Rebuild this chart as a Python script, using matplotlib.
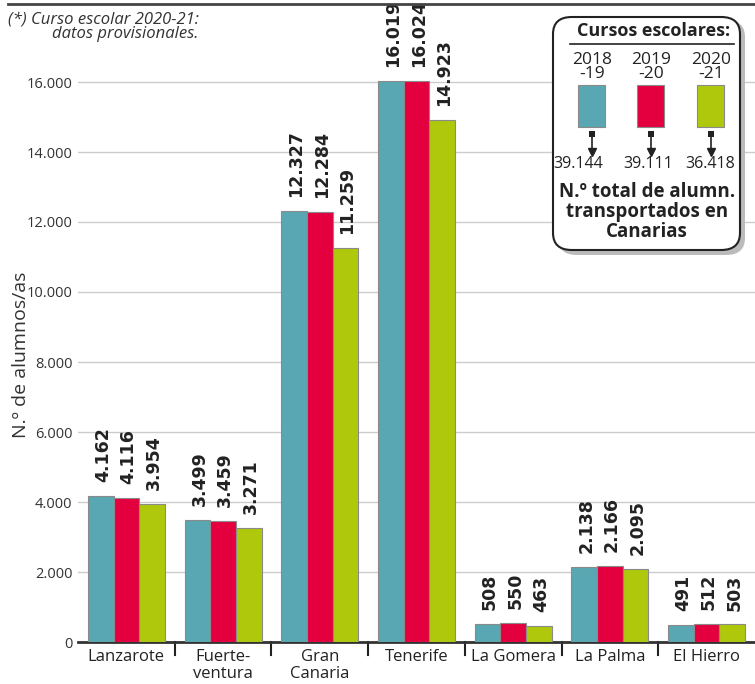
import matplotlib.pyplot as plt
from matplotlib.patches import FancyBboxPatch, Rectangle
import numpy as np

# datos
islas = ['Lanzarote', 'Fuerte-\nventura', 'Gran\nCanaria', 'Tenerife', 'La Gomera', 'La Palma', 'El Hierro']
cursos = ['2018\n-19', '2019\n-20', '2020\n-21']
c2018 = [4162, 3499, 12327, 16019, 508, 2138, 491]
c2019 = [4116, 3459, 12284, 16024, 550, 2166, 512]
c2020 = [3954, 3271, 11259, 14923, 463, 2095, 503]
totales = [39144, 39111, 36418]  # tal como aparece en el grafico
yticks = [0, 2000, 4000, 6000, 8000, 10000, 12000, 14000, 16000]
colores = ['#59a7b2', '#e4003f', '#afc80c']

W, H = 755, 684


def fx(px):
    return px / W


def fy(py):
    return 1 - py / H


def miles(v):
    return f'{v:,}'.replace(',', '.')


plt.rcParams['font.family'] = ['Open Sans', 'DejaVu Sans']

fig = plt.figure(figsize=(W / 100, H / 100), dpi=100)
ax = fig.add_axes([fx(78), fy(642), fx(755) - fx(78), fy(12) - fy(642)])

x = np.arange(len(islas))
bw = 0.265
for k, serie in enumerate([c2018, c2019, c2020]):
    pos = x + (k - 1) * bw
    ax.bar(pos, serie, bw, color=colores[k], edgecolor='#8a8a8a', linewidth=0.8, zorder=3)
    for xi, v in zip(pos, serie):
        ax.annotate(miles(v), (xi, v), xytext=(1.5, 10), textcoords='offset points',
                    rotation=90, ha='center', va='bottom', fontsize=12.5,
                    fontweight='bold', color='#222222', family='DejaVu Sans')

ax.set_xlim(-0.5, len(islas) - 0.5)
ax.set_ylim(0, 18000)
ax.set_yticks(yticks)
ax.set_yticklabels([miles(t) for t in yticks], fontsize=10.5, color='#333333')
ax.tick_params(axis='y', length=0, pad=4)
ax.grid(axis='y', color='#cccccc', linewidth=1, zorder=0)
ax.set_xticks(x)
ax.set_xticklabels(islas, fontsize=12, color='#222222', linespacing=1.05)
ax.tick_params(axis='x', length=0, pad=5)
for b in np.arange(0.5, len(islas) - 0.5):
    ax.plot([b, b], [0, -0.02], transform=ax.get_xaxis_transform(), color='#222222',
            linewidth=1.5, clip_on=False)
for s in ['top', 'right', 'left']:
    ax.spines[s].set_visible(False)
ax.spines['bottom'].set_color('#333333')
ax.spines['bottom'].set_linewidth(2)
fig.text(fx(21), fy(355), 'N.º de alumnos/as', rotation=90, fontsize=14, color='#333333',
         ha='center', va='center')

# linea superior y nota
fig.add_artist(plt.Line2D([fx(8), 1], [fy(4), fy(4)], color='#444444', linewidth=2))
fig.text(fx(8), fy(27), '(*) Curso escolar 2020-21:\ndatos provisionales.', fontsize=12,
         style='italic', color='#333333', ha='left', va='center', multialignment='right',
         linespacing=0.9)

# cuadro leyenda
fig.add_artist(FancyBboxPatch((fx(558), fy(255)), fx(740) - fx(553), fy(20) - fy(255),
                              boxstyle='round,pad=0,rounding_size=0.025', facecolor='#bbbbbb',
                              edgecolor='none', transform=fig.transFigure))
fig.add_artist(FancyBboxPatch((fx(553), fy(250)), fx(740) - fx(553), fy(17) - fy(250),
                              boxstyle='round,pad=0,rounding_size=0.025', facecolor='white',
                              edgecolor='#222222', linewidth=1.5, transform=fig.transFigure))
fig.text(fx(654), fy(31), 'Cursos escolares:', fontsize=13, fontweight='bold',
         ha='center', va='center', color='#222222')
fig.add_artist(plt.Line2D([fx(570), fx(734)], [fy(44), fy(44)], color='#222222', linewidth=1.2))
for k, cx in enumerate([592, 651, 711]):
    fig.text(fx(cx), fy(67), cursos[k], fontsize=12.5, ha='center', va='center',
             color='#222222', linespacing=0.85)
    fig.add_artist(Rectangle((fx(cx - 14), fy(127)), fx(27), fy(85) - fy(127), facecolor=colores[k],
                             edgecolor='#8a8a8a', linewidth=0.8, transform=fig.transFigure))
    fig.add_artist(Rectangle((fx(cx - 3), fy(137)), fx(6), fy(131) - fy(137), facecolor='#222222',
                             edgecolor='none', transform=fig.transFigure))
    fig.add_artist(plt.Line2D([fx(cx), fx(cx)], [fy(137), fy(150)], color='#222222', linewidth=1.2))
    fig.add_artist(plt.Line2D([fx(cx)], [fy(152)], marker='v', markersize=6, color='#222222'))
for k, cx in enumerate([578, 648, 710]):
    fig.text(fx(cx), fy(164), miles(totales[k]), fontsize=11.5, ha='center',
             va='center', color='#222222')
fig.text(fx(647), fy(212), 'N.º total de alumn.\ntransportados en\nCanarias', fontsize=13.5,
         fontweight='bold', ha='center', va='center', color='#222222', linespacing=1.0)

fig.savefig('out.png', dpi=100)
